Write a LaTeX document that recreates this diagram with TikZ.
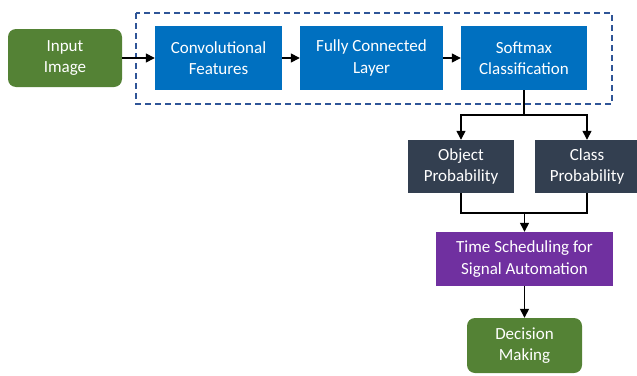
\documentclass[tikz,border=0pt]{standalone}
\usepackage{fontspec}
\setmainfont{Carlito}
\usetikzlibrary{arrows.meta}

\definecolor{leafgreen}{HTML}{548235}
\definecolor{cnnblue}{HTML}{0070C0}
\definecolor{slate}{HTML}{333F50}
\definecolor{plum}{HTML}{7030A0}
\definecolor{frameblue}{HTML}{2F5597}

\tikzset{
  block/.style={inner sep=0pt, align=center, text=white,
    font=\fontsize{17}{21.5}\selectfont},
  greenbox/.style={block, fill=leafgreen, rounded corners=8pt},
  cnnbox/.style={block, fill=cnnblue},
  probbox/.style={block, fill=slate},
  taskbox/.style={block, fill=plum},
  link/.style={line width=1.4pt, -{Triangle[length=9pt,width=9pt]}},
  wire/.style={line width=1.4pt},
}

\begin{document}
\begin{tikzpicture}[x=1pt, y=-1pt]
    \useasboundingbox (0,0) rectangle (637,375);

    % CNN stage inside the dashed frame
    \draw[frameblue, line width=1.6pt, dash pattern=on 6pt off 4pt] (136,13) rectangle (612,104);

    \node[greenbox, minimum width=114pt, minimum height=58pt] (input) at (65,58) {Input\\Image};
    \node[cnnbox, minimum width=127pt, minimum height=64pt] (conv) at (218.5,58) {Convolutional\\Features};
    \node[cnnbox, minimum width=143pt, minimum height=64pt] (fc) at (371.5,58) {Fully Connected\\Layer};
    \node[cnnbox, minimum width=126pt, minimum height=64pt] (soft) at (524,58) {Softmax\\Classification};

    % outputs
    \node[probbox, minimum width=106pt, minimum height=53pt] (obj) at (461,166.5) {Object\\Probability};
    \node[probbox, minimum width=104pt, minimum height=53pt] (cls) at (587,166.5) {Class\\Probability};
    \node[taskbox, minimum width=177pt, minimum height=54pt] (sched) at (524.5,259) {Time Scheduling for\\Signal Automation};
    \node[greenbox, minimum width=115pt, minimum height=55pt] (decide) at (524.5,345.5) {Decision\\Making};

    \draw[link] (input) -- (conv);
    \draw[link] (conv) -- (fc);
    \draw[link] (fc) -- (soft);

    % split and merge
    \coordinate (split) at (524,115);
    \coordinate (merge) at (524.5,213);
    \draw[wire] (soft.south) -- (split);
    \draw[link] (split) -| (obj.north);
    \draw[link] (split) -| (cls.north);
    \draw[wire] (obj.south) |- (merge) -| (cls.south);
    \draw[link] (merge) -- (sched.north);
    \draw[link] (sched) -- (decide);
\end{tikzpicture}
\end{document}
